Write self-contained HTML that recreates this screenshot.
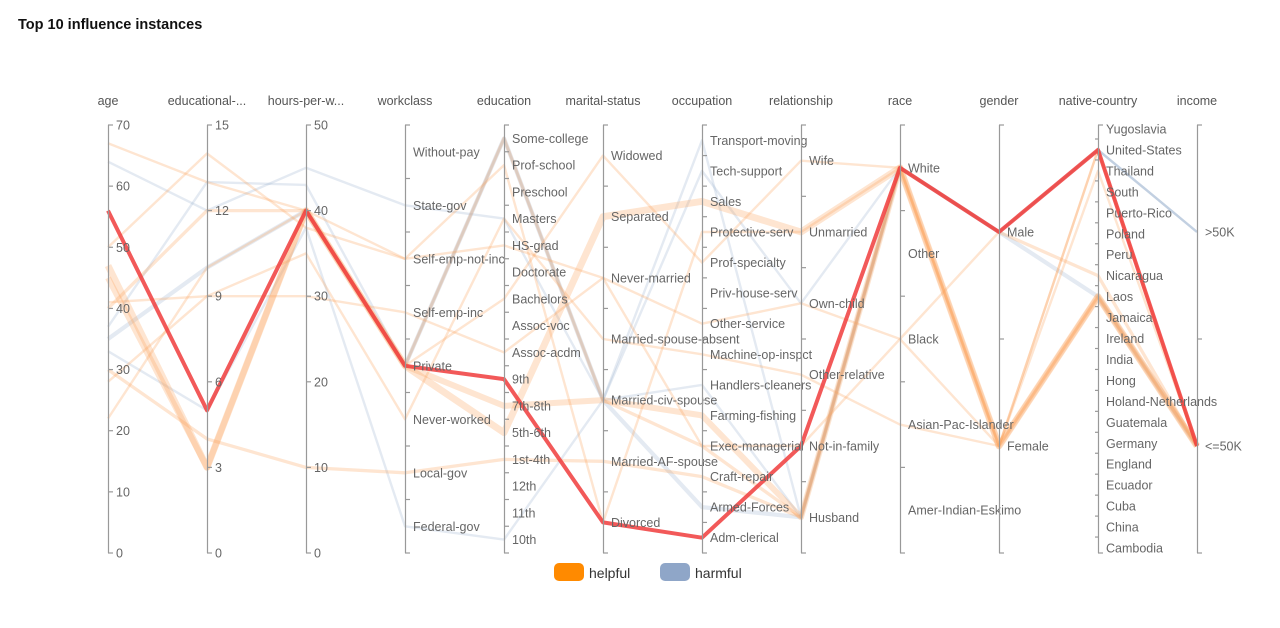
<!DOCTYPE html>
<html><head><meta charset="utf-8">
<style>
body{margin:0;background:#fff;width:1280px;height:628px;overflow:hidden;font-family:"Liberation Sans",sans-serif;}
#title{position:absolute;left:18px;top:17px;font-size:14.5px;font-weight:bold;color:#111;}
svg{position:absolute;left:0;top:0;}
</style></head><body>
<div id="title">Top 10 influence instances</div>
<svg id="chart" width="1280" height="628"></svg>
<script>
const dims = ["age","educational-num","hours-per-week","workclass","education","marital-status","occupation","relationship","race","gender","native-country","income"];
const dimLabels = ["age","educational-...","hours-per-w...","workclass","education","marital-status","occupation","relationship","race","gender","native-country","income"];
const numRanges = {"age":[0,70],"educational-num":[0,15],"hours-per-week":[0,50]};
const numTicks = {"age":[0,10,20,30,40,50,60,70],"educational-num":[0,3,6,9,12,15],"hours-per-week":[0,10,20,30,40,50]};
const workclassCats = ["Without-pay","State-gov","Self-emp-not-inc","Self-emp-inc","Private","Never-worked","Local-gov","Federal-gov"];
const educationCats = ["Some-college","Prof-school","Preschool","Masters","HS-grad","Doctorate","Bachelors","Assoc-voc","Assoc-acdm","9th","7th-8th","5th-6th","1st-4th","12th","11th","10th"];
const maritalCats = ["Widowed","Separated","Never-married","Married-spouse-absent","Married-civ-spouse","Married-AF-spouse","Divorced"];
const occupationCats = ["Transport-moving","Tech-support","Sales","Protective-serv","Prof-specialty","Priv-house-serv","Other-service","Machine-op-inspct","Handlers-cleaners","Farming-fishing","Exec-managerial","Craft-repair","Armed-Forces","Adm-clerical"];
const relationshipCats = ["Wife","Unmarried","Own-child","Other-relative","Not-in-family","Husband"];
const raceCats = ["White","Other","Black","Asian-Pac-Islander","Amer-Indian-Eskimo"];
const genderCats = ["Male","Female"];
const countryCats = ["Yugoslavia","United-States","Thailand","South","Puerto-Rico","Poland","Peru","Nicaragua","Laos","Jamaica","Ireland","India","Hong","Holand-Netherlands","Guatemala","Germany","England","Ecuador","Cuba","China","Cambodia"];
const incomeCats = [">50K","<=50K"];
const catMap = {"workclass":workclassCats,"education":educationCats,"marital-status":maritalCats,"occupation":occupationCats,"relationship":relationshipCats,"race":raceCats,"gender":genderCats,"native-country":countryCats,"income":incomeCats};

const recordTypes = ["harmful","harmful","harmful","harmful","helpful","helpful","helpful","helpful","helpful","helpful","helpful","helpful","helpful","target"];
const recordWeights = [1,1,1,3,1,1,1,6,5,2,1,1,2,4];
const records = [
 [64,12,45,"State-gov","Masters","Married-civ-spouse","Transport-moving","Husband","White","Male","United-States",">50K"],
 [33,5,38,"Federal-gov","10th","Married-civ-spouse","Handlers-cleaners","Husband","White","Male","United-States",">50K"],
 [37,13,43,"Private","Some-college","Married-civ-spouse","Tech-support","Own-child","White","Male","United-States",">50K"],
 [35,10,40,"Private","Some-college","Married-civ-spouse","Armed-Forces","Husband","White","Male","Laos","<=50K"],
 [67,13,40,"Private","Bachelors","Widowed","Prof-specialty","Wife","White","Female","United-States","<=50K"],
 [41,9,30,"Self-emp-inc","Assoc-acdm","Never-married","Other-service","Own-child","Black","Male","United-States","<=50K"],
 [22,10,40,"Self-emp-not-inc","HS-grad","Never-married","Exec-managerial","Not-in-family","Black","Female","United-States","<=50K"],
 [47,3,40,"Private","5th-6th","Separated","Sales","Unmarried","White","Female","Laos","<=50K"],
 [45,3,40,"Private","7th-8th","Married-civ-spouse","Farming-fishing","Husband","White","Female","Laos","<=50K"],
 [30,4,10,"Local-gov","1st-4th","Married-AF-spouse","Craft-repair","Husband","White","Female","Laos","<=50K"],
 [28,9,35,"Never-worked","Masters","Married-spouse-absent","Machine-op-inspct","Other-relative","Asian-Pac-Islander","Female","Thailand","<=50K"],
 [50,14,38,"Self-emp-not-inc","Prof-school","Divorced","Protective-serv","Unmarried","White","Female","Laos","<=50K"],
 [40,12,40,"Private","Some-college","Married-civ-spouse","Exec-managerial","Husband","White","Male","Nicaragua","<=50K"],
 [56,5,40,"Private","9th","Divorced","Adm-clerical","Not-in-family","White","Male","United-States","<=50K"]
];

const NS="http://www.w3.org/2000/svg";
const svg=document.getElementById("chart");
const X0=108, DX=99, TOP=125, BOT=553;
function xPos(i){return X0+i*DX;}
function yPos(dim,v){
  if(numRanges[dim]){const r=numRanges[dim];return BOT-(v-r[0])/(r[1]-r[0])*(BOT-TOP);}
  const c=catMap[dim];
  if(dim==="native-country"){const a=TOP+4,b=BOT-5;return a+(b-a)*c.indexOf(v)/(c.length-1);}
  const b=(BOT-TOP)/c.length;return TOP+b*(c.indexOf(v)+0.5);
}
function mk(tag,attrs,parent){const e=document.createElementNS(NS,tag);for(const k in attrs)e.setAttribute(k,attrs[k]);(parent||svg).appendChild(e);return e;}

const linesG=mk("g",{});
records.forEach((rec,i)=>{
  const t=recordTypes[i];
  const pts=dims.map((d,j)=>xPos(j)+","+yPos(d,rec[j]).toFixed(1)).join(" ");
  let col,op;
  if(t==="target"){col="#f03c3c";op=0.85;}
  else if(t==="helpful"){col="#fba35a";op=0.28;}
  else {col="#9fb3cf";op=0.28;}
  const p=mk("polyline",{points:pts,fill:"none",stroke:col,"stroke-opacity":op,"stroke-width":t==="target"?4:(1.5+recordWeights[i]*0.9),"stroke-linejoin":"round"},linesG);
  
  
});

const axG=mk("g",{});
dims.forEach((d,j)=>{
  const x=xPos(j);
  const g=mk("g",{},axG);
  
  
  const t=mk("text",{x:x,y:105,"text-anchor":"middle","font-size":12.5,fill:"#555"},g);
  t.textContent=dimLabels[j];
  
  
  mk("line",{x1:x+0.5,y1:TOP,x2:x+0.5,y2:BOT,stroke:"#999","stroke-width":1.2},g);
  if(numRanges[d]){
    numTicks[d].forEach(v=>{
      const y=yPos(d,v);
      mk("line",{x1:x,y1:y,x2:x+5,y2:y,stroke:"#999","stroke-width":1.2},g);
      const tl=mk("text",{x:x+8,y:y+4.5,"font-size":12.5,fill:"#666"},g);
      tl.textContent=v;
      
      
    });
  } else {
    const c=catMap[d];
    if(d==="native-country"){
      mk("line",{x1:x,y1:TOP,x2:x+5,y2:TOP,stroke:"#999","stroke-width":1.2},g);
      mk("line",{x1:x,y1:BOT,x2:x+5,y2:BOT,stroke:"#999","stroke-width":1.2},g);
      c.forEach((v,k)=>{if(k===c.length-1)return;const y=yPos(d,v)+10;mk("line",{x1:x-3,y1:y,x2:x,y2:y,stroke:"#999","stroke-width":1.2},g);});
    } else {
      const b=(BOT-TOP)/c.length;
      for(let k=0;k<=c.length;k++){
        const y=TOP+b*k;
        mk("line",{x1:x,y1:y,x2:x+5,y2:y,stroke:"#999","stroke-width":1.2},g);
      }
    }
    c.forEach(v=>{
      const y=yPos(d,v);
      const tl=mk("text",{x:x+8,y:y+4.5,"font-size":12.5,fill:"#666"},g);
      tl.textContent=v;
      
      
    });
  }
});

const lg=mk("g",{});


const legendItems=[["helpful","#ff8a00",554],["harmful","#8fa6c8",660]];
legendItems.forEach(it=>{
  const e=mk("g",{},lg);
  
  
  mk("rect",{x:it[2],y:563,width:30,height:18,rx:5,fill:it[1]},e);
  const t=mk("text",{x:it[2]+35,y:578,"font-size":14,fill:"#333"},e);
  t.textContent=it[0];
});
</script>
</body></html>
